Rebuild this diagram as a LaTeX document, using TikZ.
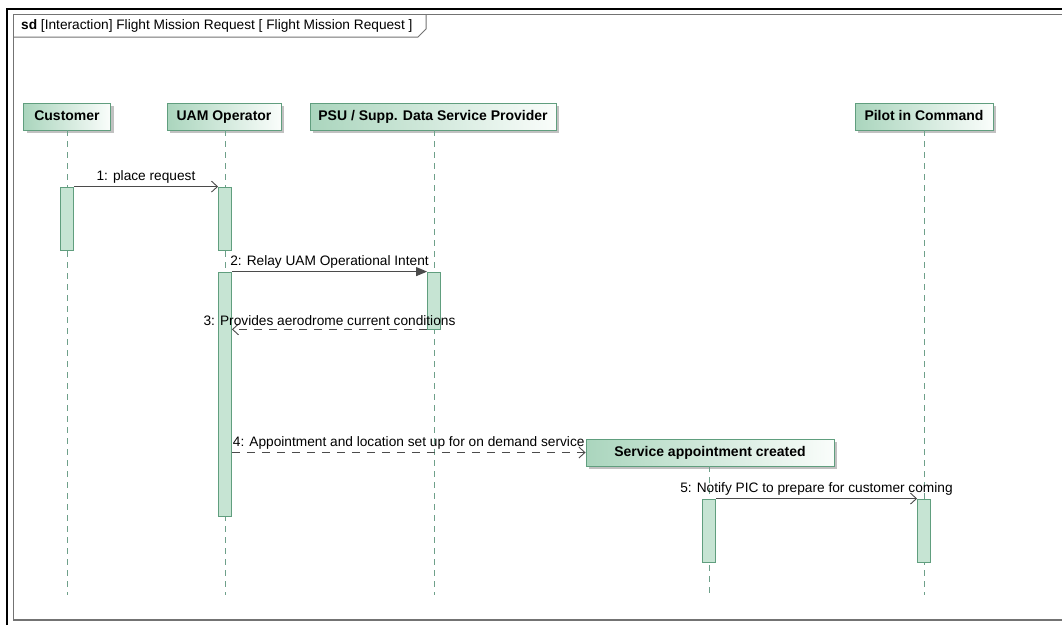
\documentclass[tikz,border=0pt]{standalone}
\usepackage{fontspec}
\setmainfont{Liberation Sans}
\usetikzlibrary{arrows.meta,shadows}
\definecolor{hdgreen}{RGB}{170,213,189}
\definecolor{hdwhite}{RGB}{250,253,251}
\definecolor{bordergreen}{RGB}{96,158,126}
\definecolor{actfill}{RGB}{198,228,211}
\definecolor{lifegreen}{RGB}{110,160,138}
\definecolor{msggray}{RGB}{75,75,75}
\begin{document}
\begin{tikzpicture}[x=1pt,y=-1pt,
  head/.style={draw=bordergreen, line width=0.9pt, left color=hdgreen, right color=hdwhite,
    drop shadow={shadow xshift=3pt, shadow yshift=-3pt, fill=black!40, opacity=0.6},
    font=\fontsize{14}{16}\selectfont\bfseries, minimum height=27pt, inner sep=0pt,
    text height=10.5pt, text depth=3pt},
  act/.style={draw=bordergreen, fill=actfill, line width=0.8pt, minimum width=13pt, inner sep=0pt},
  life/.style={lifegreen, line width=0.9pt, dash pattern=on 6pt off 5pt},
  msg/.style={msggray, line width=0.9pt},
  msgdash/.style={msggray, line width=0.9pt, dash pattern=on 8pt off 7pt},
  openarrow/.style={-{Straight Barb[length=6pt,width=11pt,line width=0.9pt]}},
  filledarrow/.style={-{Triangle[length=11pt,width=9pt]}},
  lbl/.style={font=\fontsize{13.7}{15}\selectfont, text=black, inner sep=1pt}
]
\useasboundingbox (0,0) rectangle (1062,625);
\fill[white] (0,0) rectangle (1062,625);
% outer borders
\draw[black, line width=2pt] (7,625) -- (7,9) -- (1062,9);
\draw[black!55, line width=1.3pt] (1062,14.5) -- (13.5,14.5) -- (13.5,620) -- (1062,620);
% frame tab
\draw[black!55, line width=1pt] (13.5,37) -- (418,37) -- (426,29) -- (426,14.5);
\node[anchor=west, inner sep=0pt, font=\fontsize{13.7}{15}\selectfont] (title) at (21,25.5)
  {\textbf{sd} [Interaction] Flight Mission Request [ Flight Mission Request ]};

% lifeline heads
\node[head, minimum width=87pt] (cust) at (67,116.5) {Customer};
\node[head, minimum width=114pt] (uam) at (224,116.5) {UAM Operator};
\node[head, minimum width=246pt] (psu) at (433,116.5) {PSU / Supp. Data Service Provider};
\node[head, minimum width=138pt] (pic) at (924,116.5) {Pilot in Command};
\node[head, minimum width=248pt] (sac) at (710,452.5) {Service appointment created};

% lifeline ends
\coordinate (custend) at (67,595);
\coordinate (uamend) at (225,595);
\coordinate (psuend) at (434,595);
\coordinate (picend) at (924,595);
\coordinate (sacend) at (709,595);

\draw[life] (cust.south -| custend) -- (custend);
\draw[life] (uam.south -| uamend) -- (uamend);
\draw[life] (psu.south -| psuend) -- (psuend);
\draw[life] (pic.south -| picend) -- (picend);
\draw[life] (sac.south -| sacend) -- (sacend);

% activations
\node[act, minimum height=63pt] (c1) at (67,218.5) {};
\node[act, minimum height=63pt] (u1) at (225,218.5) {};
\node[act, minimum height=244pt] (u2) at (225,394) {};
\node[act, minimum height=57pt] (p1) at (434,300.5) {};
\node[act, minimum height=63pt] (s1) at (709,530.5) {};
\node[act, minimum height=63pt] (pc1) at (924,530.5) {};

% messages
\draw[msg, openarrow] (c1.north east) -- node[lbl, above=2pt] {1: place request} (u1.north west);
\draw[msg, filledarrow] (u2.north east) -- node[lbl, above=2pt] {2: Relay UAM Operational Intent} (p1.north west);
\draw[msgdash, openarrow] (p1.south west) -- node[lbl, above=2pt] {3: Provides aerodrome current conditions} (p1.south west -| u2.east);
\draw[msgdash, openarrow] (u2.east |- sac.west) -- node[lbl, above=2pt] {4: Appointment and location set up for on demand service} (sac.west);
\draw[msg, openarrow] (s1.north east) -- node[lbl, above=2pt] {5: Notify PIC to prepare for customer coming} (pc1.north west);
\end{tikzpicture}
\end{document}
